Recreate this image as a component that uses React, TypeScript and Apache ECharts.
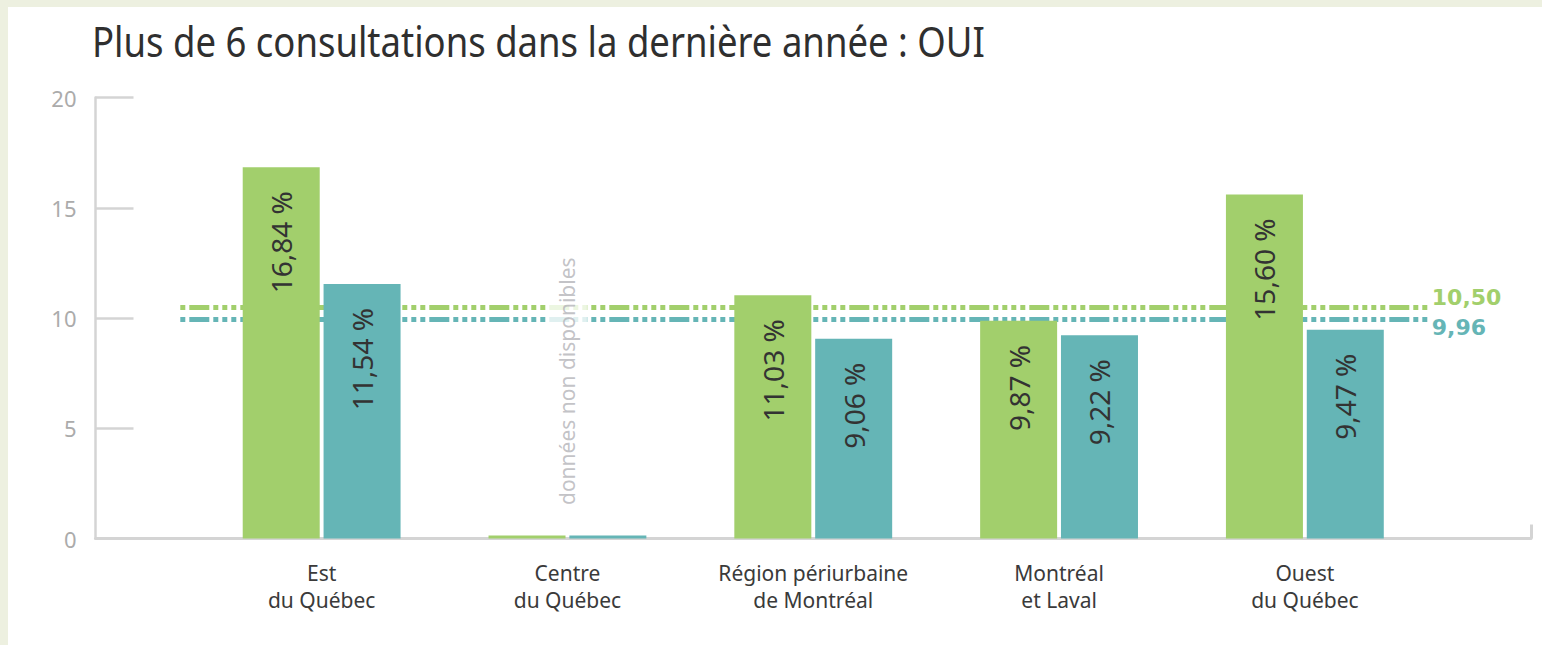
import React, { useEffect, useRef } from "react";
import * as echarts from "echarts";

// ---- data ----
const TITLE = "Plus de 6 consultations dans la dernière année : OUI";
const CATEGORIES = [
  "Est\ndu Québec",
  "Centre\ndu Québec",
  "Région périurbaine\nde Montréal",
  "Montréal\net Laval",
  "Ouest\ndu Québec",
];
const GREEN_VALUES: (number | null)[] = [16.84, null, 11.03, 9.87, 15.6];
const TEAL_VALUES: (number | null)[] = [11.54, null, 9.06, 9.22, 9.47];
const GREEN_AVERAGE = 10.5;
const TEAL_AVERAGE = 9.96;
const Y_MIN = 0;
const Y_MAX = 20;
const Y_INTERVAL = 5;
const MISSING_NOTE = "données non disponibles";

// ---- layout / style ----
const X_MIN = -0.92;
const X_MAX = 4.92;
const REF_SPAN = [-0.575, 4.5];
const GREEN = "#a2cf6c";
const TEAL = "#65b5b6";
const AXIS = "#d4d4d4";
const DASH = [20, 4, 5, 4, 5, 4, 5, 4, 5, 4];

const fmt = (v: number) => v.toFixed(2).replace(".", ",");

function barData(values: (number | null)[]) {
  return values.map((v, i) => ({
    value: [i, v == null ? 0 : v],
    label: { show: v != null },
  }));
}

function barLabel() {
  return {
    show: true,
    position: "insideTop",
    rotate: 90,
    align: "right",
    verticalAlign: "middle",
    distance: 24,
    fontSize: 28,
    color: "#333",
    fontFamily: "Noto Sans",
    formatter: (p: any) => fmt(p.value[1]) + " %",
  };
}

function refLine(value: number, color: string, vAlign: string) {
  return [
    {
      coord: [REF_SPAN[0], value],
      lineStyle: { color, width: 5, type: DASH, dashOffset: 51 },
      label: {
        show: true,
        position: "end",
        formatter: fmt(value),
        color,
        fontSize: 22,
        fontWeight: "bold",
        fontFamily: "DejaVu Sans",
        distance: 4,
        verticalAlign: vAlign,
        lineHeight: 18,
      },
    },
    { coord: [REF_SPAN[1], value] },
  ];
}

export default function App() {
  const ref = useRef<HTMLDivElement>(null);

  useEffect(() => {
    const chart = echarts.init(ref.current!, undefined, { renderer: "svg" });
    const option: any = {
      animation: false,
      textStyle: { fontFamily: "Noto Sans" },
      graphic: [
        {
          type: "text",
          x: 84,
          y: 34,
          scaleX: 0.89,
          style: {
            text: TITLE,
            font: '41px "Noto Sans"',
            fill: "#2f2f2f",
            verticalAlign: "middle",
          },
        },
      ],
      grid: { left: 87.5, right: 11, top: 90.5, bottom: 106.5 },
      xAxis: {
        type: "value",
        min: X_MIN,
        max: X_MAX,
        splitLine: { show: false },
        axisLine: { show: true, onZero: false, lineStyle: { color: AXIS, width: 3 } },
        axisTick: {
          show: true,
          inside: true,
          length: 14,
          customValues: [X_MAX],
          lineStyle: { color: AXIS, width: 3 },
        },
        axisLabel: {
          customValues: CATEGORIES.map((_, i) => i),
          formatter: (v: number) => CATEGORIES[Math.round(v)] ?? "",
          fontSize: 21,
          lineHeight: 27,
          color: "#3a3a3a",
          margin: 21,
        },
      },
      yAxis: {
        type: "value",
        min: Y_MIN,
        max: Y_MAX,
        interval: Y_INTERVAL,
        splitLine: { show: false },
        axisLine: { show: true, onZero: false, lineStyle: { color: AXIS, width: 2.5 } },
        axisTick: { show: true, inside: true, length: 38, lineStyle: { color: AXIS, width: 2.5 } },
        axisLabel: { fontSize: 22, color: "#ababab", margin: 19, padding: [10, 0, 0, 0] },
      },
      series: [
        {
          type: "line",
          data: [],
          z: 1,
          markLine: {
            z: 1,
            silent: true,
            symbol: ["none", "none"],
            data: [
              refLine(GREEN_AVERAGE, GREEN, "bottom"),
              refLine(TEAL_AVERAGE, TEAL, "top"),
            ],
          },
        },
        {
          type: "bar",
          z: 2,
          barWidth: 77,
          barGap: "5%",
          barMinHeight: 3,
          itemStyle: { color: GREEN },
          label: barLabel(),
          data: barData(GREEN_VALUES),
        },
        {
          type: "bar",
          z: 2,
          barWidth: 77,
          barGap: "5%",
          barMinHeight: 3,
          itemStyle: { color: TEAL },
          label: barLabel(),
          data: barData(TEAL_VALUES),
        },
        {
          type: "scatter",
          z: 5,
          symbolSize: 1,
          itemStyle: { color: "rgba(0,0,0,0)" },
          label: {
            show: true,
            formatter: MISSING_NOTE,
            position: "top",
            distance: 29,
            rotate: 90,
            align: "left",
            verticalAlign: "middle",
            fontSize: 21,
            color: "#b3b3b8",
            backgroundColor: "#ffffff",
            padding: [9, 4],
          },
          data: CATEGORIES.map((_, i) => (GREEN_VALUES[i] == null ? [i, 0] : null)).filter(
            (d) => d != null
          ),
        },
      ],
    };
    chart.setOption(option);
    return () => chart.dispose();
  }, []);

  return (
    <div
      style={{
        position: "fixed",
        left: 0,
        top: 0,
        width: 1542,
        height: 645,
        background: "#edf0e0",
      }}
    >
      <div
        ref={ref}
        style={{
          position: "absolute",
          left: 8,
          top: 7,
          width: 1534,
          height: 638,
          background: "#ffffff",
        }}
      />
    </div>
  );
}
